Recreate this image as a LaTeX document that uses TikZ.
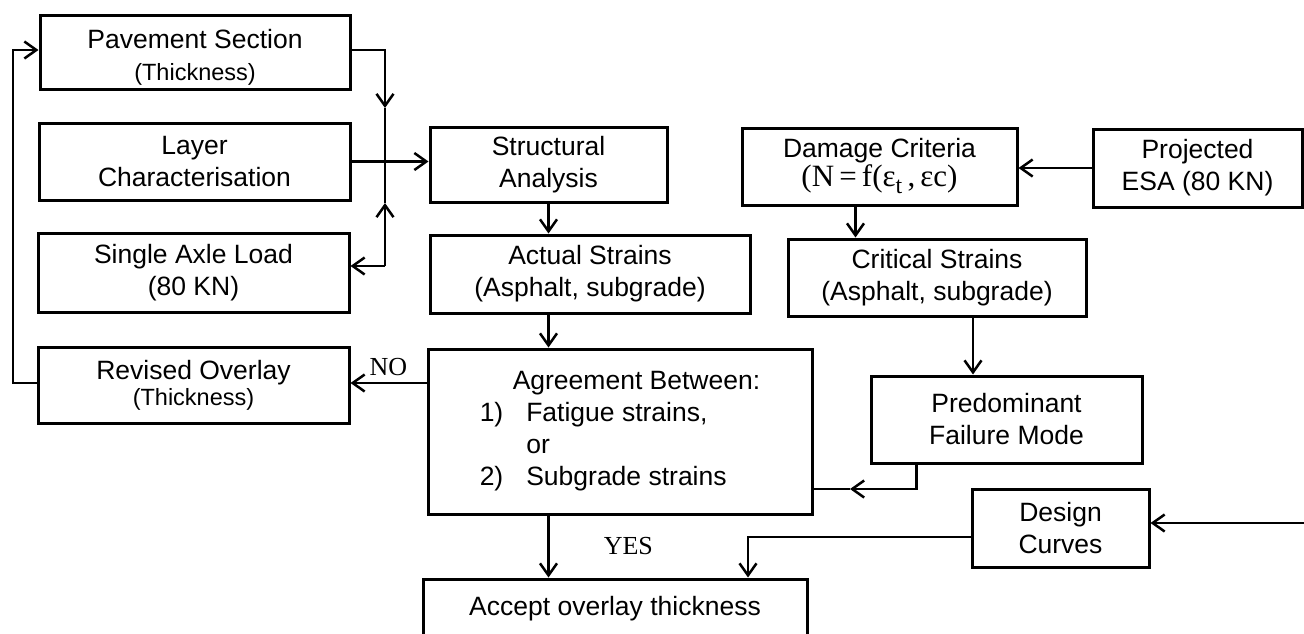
\documentclass[tikz,border=0pt]{standalone}
\usepackage{fontspec}
\setmainfont{Liberation Sans}
\newfontfamily\romanfont{Liberation Serif}
\usetikzlibrary{arrows.meta, positioning}

\newcommand{\subtxt}{\fontsize{23.5}{28}\selectfont}

\begin{document}
\begin{tikzpicture}[x=1pt, y=-1pt, >={Straight Barb[length=12pt, width=17pt]},
    box/.style={draw, line width=3pt, inner sep=0pt, align=center,
                font=\fontsize{26.5}{32}\selectfont},
    conn/.style={line width=2.5pt},
    yesno/.style={font=\romanfont\fontsize{26}{30}\selectfont, inner sep=0pt}]

    \path[use as bounding box, clip] (0,0) rectangle (1304,633);

    % 1. Input boxes (left column)
    \node[box, minimum width=310, minimum height=74] (pave) at (195,52)
        {\rule{0pt}{30pt}Pavement Section\\{\subtxt (Thickness)}};
    \node[box, minimum width=311, minimum height=77] (layer) at (194.5,161.5)
        {Layer\\Characterisation};
    \node[box, minimum width=311, minimum height=79] (axle) at (193.5,272.5)
        {Single Axle Load\\(80 KN)};
    \node[box, minimum width=311, minimum height=76] (revised) at (193.5,385)
        {Revised Overlay\\[-6pt]{\subtxt (Thickness)}};

    % 2. Analysis column
    \node[box, minimum width=237, minimum height=75] (struct) at (548.5,164.5)
        {Structural\\Analysis};
    \node[box, minimum width=320, minimum height=78] (actual) at (590,274)
        {Actual Strains\\(Asphalt, subgrade)};
    \node[box, minimum width=384, minimum height=165] (agree) at (620,431.5)
        {\begin{tabular}{@{}l@{\hspace{23pt}}l@{}}
            \multicolumn{2}{@{}l@{}}{\hspace{33pt}Agreement Between:}\\
            1) & Fatigue strains,\\
               & or\\
            2) & Subgrade strains
         \end{tabular}};
    \node[box, minimum width=384, minimum height=60] (accept) at (615,609)
        {Accept overlay thickness};

    % 3. Criteria column
    \node[box, minimum width=275, minimum height=77] (damage) at (879.5,166.5)
        {Damage Criteria\\[-3pt]{\romanfont\fontsize{31}{34}\selectfont
         (N\,=\,f(ε\raisebox{-7pt}{\fontsize{24}{24}\selectfont t}\,,\,εc)}};
    \node[box, minimum width=209, minimum height=78] (project) at (1197.5,168)
        {Projected\\ESA (80 KN)};
    \node[box, minimum width=298, minimum height=77] (critical) at (937,277.5)
        {Critical Strains\\(Asphalt, subgrade)};
    \node[box, minimum width=271, minimum height=87] (predom) at (1006.5,419.5)
        {Predominant\\Failure Mode};
    \node[box, minimum width=177, minimum height=78] (design) at (1060.5,528)
        {Design\\Curves};

    % 4. Free ends and bends
    \coordinate (busA) at (385,108);
    \coordinate (busJ) at (385,163);
    \coordinate (busB) at (385,203);
    \coordinate (busC) at (385,266);
    \coordinate (loop) at (13,383);
    \coordinate (pm) at (850,489);
    \coordinate (dsrc) at (1310,523);

    % Collector line of the inputs
    \draw[conn, ->] ([yshift=2]pave.east) -| (busA);
    \draw[conn] (busA) -- (busJ);
    \draw[conn, ->] (busC) -- (busB);
    \draw[conn] (busB) -- (busJ);
    \draw[conn, ->] (busC) -- (busC -| axle.east);
    \draw[conn, ->] (layer.east) -- (layer.east -| struct.west);

    % Loop back to the pavement section
    \draw[conn, ->] (revised.west |- loop) -- (loop) |- ([yshift=2]pave.west);

    % Main flow
    \draw[conn, ->] (struct.south) -- (struct.south |- actual.north);
    \draw[conn, ->] (actual.south -| struct) -- (agree.north -| struct);
    \draw[conn, ->] (agree.west |- loop) -- (loop -| revised.east)
        node[yesno, midway, above=6pt] {NO};
    \draw[conn, ->] (agree.south -| struct) -- (accept.north -| struct)
        node[yesno, midway, right=54pt] {YES};

    % Criteria flow
    \draw[conn, ->] (project.west) -- (project.west -| damage.east);
    \draw[conn, ->] ([xshift=-24]damage.south) -- ([xshift=-24]damage.south |- critical.north);
    \draw[conn, ->] ([xshift=36]critical.south) -- ([xshift=36]critical.south |- predom.north);
    \draw[conn, ->] ([xshift=-90]predom.south) |- (pm);
    \draw[conn] (pm) -- (pm -| agree.east);
    \draw[conn, ->] (dsrc) -- (dsrc -| design.east);
    \draw[conn, ->] ([yshift=-9]design.west) -| ([xshift=133]accept.north);

\end{tikzpicture}
\end{document}
